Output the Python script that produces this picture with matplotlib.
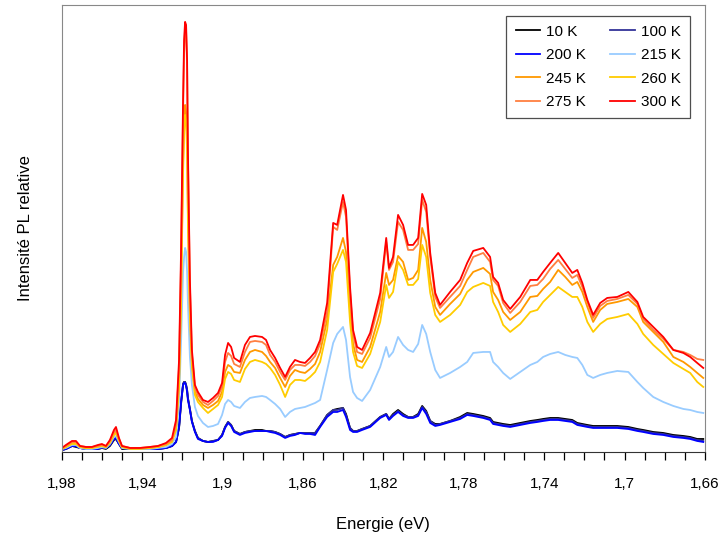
import matplotlib
matplotlib.use("Agg")
import numpy as np
import matplotlib.pyplot as plt
from matplotlib.ticker import MultipleLocator, FixedLocator

plt.rcParams['font.family'] = ['Liberation Sans', 'DejaVu Sans']

# energie (eV)
energy = [1.9800, 1.9780, 1.9750, 1.9730, 1.9710, 1.9680, 1.9651, 1.9621, 1.9601, 1.9581,
          1.9561, 1.9541, 1.9531, 1.9516, 1.9501, 1.9461, 1.9412, 1.9362, 1.9322, 1.9282,
          1.9252, 1.9232, 1.9217, 1.9207, 1.9197, 1.9192, 1.9187, 1.9182, 1.9177, 1.9173,
          1.9163, 1.9153, 1.9138, 1.9123, 1.9098, 1.9073, 1.9048, 1.9023, 1.9003, 1.8988,
          1.8973, 1.8958, 1.8943, 1.8914, 1.8889, 1.8864, 1.8839, 1.8804, 1.8784, 1.8764,
          1.8739, 1.8714, 1.8689, 1.8665, 1.8640, 1.8615, 1.8590, 1.8565, 1.8540, 1.8515,
          1.8480, 1.8450, 1.8430, 1.8401, 1.8386, 1.8366, 1.8351, 1.8331, 1.8306, 1.8266,
          1.8216, 1.8186, 1.8172, 1.8152, 1.8127, 1.8102, 1.8077, 1.8052, 1.8027, 1.8007,
          1.7987, 1.7967, 1.7942, 1.7918, 1.7868, 1.7818, 1.7783, 1.7753, 1.7703, 1.7669,
          1.7654, 1.7629, 1.7604, 1.7569, 1.7519, 1.7469, 1.7434, 1.7405, 1.7370, 1.7330,
          1.7295, 1.7260, 1.7235, 1.7210, 1.7185, 1.7156, 1.7121, 1.7086, 1.7036, 1.6981,
          1.6936, 1.6907, 1.6857, 1.6807, 1.6757, 1.6707, 1.6673, 1.6638, 1.6608]

pl_300 = [4, 7, 11, 11, 6, 5, 5, 7, 8, 6, 12, 22, 25, 14, 6, 4, 4, 5, 6, 9,
          14, 32, 92, 202, 352, 412, 430, 427, 392, 302, 172, 102, 67, 60, 52, 50, 54, 59, 69, 97,
          109, 105, 94, 90, 107, 115, 116, 115, 112, 102, 94, 84, 75, 85, 92, 90, 89, 94, 100, 112,
          149, 229, 227, 257, 242, 165, 122, 105, 102, 119, 159, 214, 184, 195, 237, 227, 207, 207, 214, 258,
          247, 199, 159, 147, 160, 172, 189, 201, 204, 195, 175, 169, 152, 143, 155, 172, 172, 180, 189, 199,
          189, 179, 182, 169, 152, 137, 149, 154, 155, 160, 150, 135, 125, 115, 102, 99, 95, 89, 84]
pl_275 = [4, 6, 10, 10, 6, 5, 5, 6, 7, 6, 11, 20, 22, 13, 6, 4, 4, 5, 6, 8,
          12, 28, 85, 190, 340, 400, 424, 420, 385, 295, 165, 98, 64, 57, 50, 47, 51, 56, 65, 90,
          99, 96, 88, 85, 100, 110, 111, 110, 107, 97, 90, 80, 72, 82, 87, 87, 86, 90, 96, 108,
          140, 225, 222, 250, 235, 160, 118, 100, 98, 114, 153, 210, 182, 190, 230, 222, 202, 202, 208, 252,
          240, 195, 155, 144, 155, 166, 182, 195, 199, 190, 172, 166, 149, 139, 150, 166, 167, 173, 183, 192,
          183, 174, 177, 165, 150, 134, 146, 151, 153, 157, 148, 133, 122, 113, 102, 100, 97, 93, 92]
pl_245 = [3, 5, 9, 9, 5, 4, 4, 6, 6, 5, 10, 18, 20, 12, 5, 4, 4, 4, 5, 7,
          11, 25, 70, 160, 290, 330, 347, 340, 310, 240, 140, 90, 60, 53, 47, 44, 47, 51, 60, 80,
          87, 85, 80, 79, 92, 100, 102, 100, 96, 90, 84, 74, 65, 76, 82, 80, 79, 83, 88, 100,
          132, 187, 195, 214, 200, 140, 108, 92, 90, 105, 140, 179, 167, 172, 196, 190, 172, 174, 182, 224,
          210, 172, 145, 137, 148, 158, 172, 180, 184, 178, 160, 152, 140, 132, 140, 155, 156, 163, 170, 182,
          175, 167, 170, 160, 145, 130, 142, 148, 150, 153, 145, 130, 120, 110, 95, 90, 85, 79, 74]
pl_260 = [3, 5, 8, 8, 5, 4, 4, 5, 6, 5, 9, 17, 19, 11, 5, 3, 3, 4, 5, 7,
          10, 22, 65, 150, 280, 320, 337, 332, 300, 230, 135, 85, 57, 50, 44, 39, 43, 47, 55, 73,
          80, 78, 72, 70, 83, 90, 92, 90, 88, 84, 77, 67, 55, 67, 72, 72, 71, 75, 80, 90,
          122, 180, 188, 202, 190, 130, 100, 86, 84, 98, 130, 167, 154, 160, 190, 182, 167, 167, 173, 207,
          195, 159, 137, 130, 137, 147, 160, 165, 169, 166, 150, 140, 127, 120, 128, 140, 142, 150, 157, 165,
          160, 155, 155, 145, 130, 120, 128, 133, 135, 138, 128, 118, 107, 98, 89, 83, 79, 70, 65]
pl_215 = [3, 4, 7, 7, 4, 3, 3, 4, 5, 4, 8, 15, 16, 10, 4, 3, 3, 3, 4, 5,
          8, 15, 50, 110, 180, 195, 204, 200, 180, 150, 95, 67, 45, 36, 29, 25, 26, 28, 37, 48,
          52, 50, 46, 44, 50, 54, 55, 56, 55, 52, 48, 43, 35, 40, 43, 44, 45, 47, 49, 52,
          82, 109, 118, 125, 112, 75, 60, 54, 51, 62, 85, 105, 95, 100, 115, 107, 102, 100, 108, 127,
          118, 100, 82, 74, 79, 85, 90, 99, 100, 100, 90, 85, 79, 73, 80, 87, 90, 95, 98, 100,
          97, 95, 94, 87, 77, 74, 77, 79, 81, 80, 70, 64, 55, 50, 46, 43, 42, 40, 39]
pl_200 = [2, 3, 6, 6, 4, 3, 3, 3, 5, 4, 7, 13, 14, 8, 4, 3, 3, 3, 3, 4,
          6, 10, 25, 50, 67, 69, 69, 66, 60, 52, 42, 30, 20, 13, 11, 10, 10, 12, 16, 24,
          29, 26, 20, 17, 19, 20, 21, 21, 21, 20, 19, 17, 14, 16, 17, 19, 18, 18, 17, 25,
          35, 40, 40, 42, 35, 22, 20, 20, 22, 25, 34, 37, 32, 36, 40, 36, 34, 34, 36, 44,
          38, 29, 26, 27, 30, 33, 37, 36, 34, 32, 28, 27, 26, 25, 27, 29, 30, 31, 32, 32,
          31, 30, 27, 26, 25, 24, 24, 24, 24, 23, 21, 20, 18, 17, 15, 14, 13, 11, 10]
pl_100 = [2, 3, 6, 6, 4, 3, 3, 3, 4, 4, 7, 13, 14, 8, 4, 3, 3, 3, 3, 4,
          6, 10, 25, 50, 68, 70, 70, 67, 62, 54, 43, 31, 21, 14, 11, 10, 11, 12, 17, 25,
          30, 27, 21, 18, 20, 21, 21, 21, 21, 21, 20, 18, 15, 17, 18, 19, 19, 19, 19, 26,
          37, 42, 42, 44, 37, 24, 21, 21, 23, 26, 35, 38, 33, 37, 41, 37, 35, 35, 37, 45,
          40, 31, 27, 28, 31, 34, 38, 37, 35, 33, 29, 28, 27, 26, 28, 30, 31, 32, 33, 33,
          32, 31, 28, 27, 26, 25, 25, 25, 25, 24, 22, 21, 19, 18, 16, 15, 14, 12, 11]
pl_10 = [2, 3, 6, 5, 4, 3, 3, 3, 4, 3, 6, 12, 13, 8, 3, 3, 3, 3, 3, 4,
         6, 10, 24, 48, 68, 70, 70, 67, 62, 54, 43, 31, 21, 14, 11, 10, 11, 12, 17, 25,
         30, 27, 21, 18, 20, 21, 22, 22, 21, 21, 20, 18, 15, 17, 18, 19, 19, 19, 19, 26,
         37, 42, 43, 44, 38, 24, 21, 21, 23, 26, 35, 38, 33, 38, 42, 38, 35, 35, 38, 46,
         41, 31, 28, 28, 31, 35, 39, 38, 36, 34, 30, 29, 28, 27, 29, 31, 32, 33, 34, 34,
         33, 32, 29, 28, 27, 26, 26, 26, 26, 25, 23, 22, 20, 19, 17, 16, 15, 13, 13]

labels = ['10 K', '100 K', '200 K', '215 K', '245 K', '260 K', '275 K', '300 K']
colors = ['#000000', '#333399', '#0000FF', '#99CCFF', '#FF9900', '#FFCC00', '#FF7F40', '#FF0000']
series = [pl_10, pl_100, pl_200, pl_215, pl_245, pl_260, pl_275, pl_300]

xticks = [1.98, 1.94, 1.90, 1.86, 1.82, 1.78, 1.74, 1.70, 1.66]
xticklabels = ['1,98', '1,94', '1,9', '1,86', '1,82', '1,78', '1,74', '1,7', '1,66']

fig = plt.figure(figsize=(7.2, 5.4), dpi=100)
ax = fig.add_axes([0.086, 0.163, 0.893, 0.828])

lines = []
for s, lab, c in zip(series, labels, colors):
    ln, = ax.plot(energy, s, color=c, lw=1.3, label=lab)
    lines.append(ln)

ax.set_xlim(1.98, 1.66)
ax.set_ylim(0, 447)
ax.xaxis.set_major_locator(FixedLocator(xticks))
ax.set_xticklabels(xticklabels)
ax.xaxis.set_minor_locator(MultipleLocator(0.01))
ax.tick_params(axis='x', which='both', direction='out', length=6, width=0.9,
               labelsize=11, pad=12)
ax.set_yticks([])

for side in ['left', 'top', 'right']:
    ax.spines[side].set_color('#888888')
ax.spines['bottom'].set_color('#333333')

ax.set_xlabel('Energie (eV)', fontsize=12, labelpad=19)
ax.set_ylabel('Intensité PL relative', fontsize=12, labelpad=21)

# legend filled row by row like the original
order = [0, 2, 4, 6, 1, 3, 5, 7]
leg = ax.legend([lines[i] for i in order], [labels[i] for i in order],
                ncol=2, loc='upper right', bbox_to_anchor=(0.977, 0.976),
                borderaxespad=0, fontsize=11, frameon=True, fancybox=False,
                handlelength=1.6, handletextpad=0.4, columnspacing=1.6,
                labelspacing=0.62, borderpad=0.6)
leg.get_frame().set_edgecolor('#222222')
leg.get_frame().set_linewidth(0.9)

fig.savefig('out.png', dpi=100)
